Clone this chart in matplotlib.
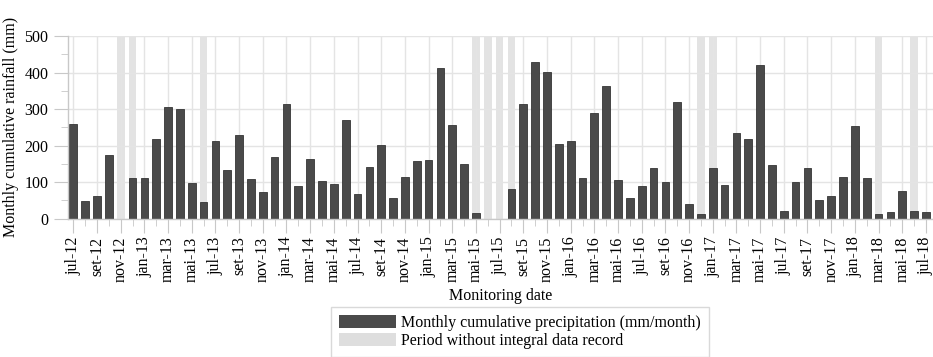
import matplotlib
matplotlib.use("Agg")
import matplotlib.pyplot as plt
from matplotlib.patches import Patch
from matplotlib.ticker import MultipleLocator

plt.rcParams['font.family'] = ['Liberation Serif', 'DejaVu Serif']

# Monthly cumulative precipitation, jul-12 ... jul-18 (mm/month)
rainfall = [
    260, 49, 62, 175, 0, 112,            # jul-12 .. dez-12
    110, 217, 306, 300, 97, 44,          # jan-13 .. jun-13
    212, 133, 230, 108, 72, 169,         # jul-13 .. dez-13
    313, 89, 163, 104, 94, 271,          # jan-14 .. jun-14
    68, 142, 201, 56, 114, 158,          # jul-14 .. dez-14
    161, 413, 256, 148, 16, 0,           # jan-15 .. jun-15
    0, 80, 313, 428, 401, 205,           # jul-15 .. dez-15
    213, 112, 289, 362, 106, 57,         # jan-16 .. jun-16
    89, 137, 101, 320, 39, 11,           # jul-16 .. dez-16
    137, 93, 233, 219, 421, 146,         # jan-17 .. jun-17
    21, 101, 137, 51, 61, 114,           # jul-17 .. dez-17
    254, 111, 11, 19, 75, 21,            # jan-18 .. jun-18
    17,                                  # jul-18
]

# 1 = month without integral data record
no_record = [0] * len(rainfall)
for m in [4, 5, 11, 34, 35, 36, 37, 53, 54, 68, 71]:
    no_record[m] = 1

tick_labels = [
    "jul-12", "set-12", "nov-12", "jan-13", "mar-13", "mai-13",
    "jul-13", "set-13", "nov-13", "jan-14", "mar-14", "mai-14",
    "jul-14", "set-14", "nov-14", "jan-15", "mar-15", "mai-15",
    "jul-15", "set-15", "nov-15", "jan-16", "mar-16", "mai-16",
    "jul-16", "set-16", "nov-16", "jan-17", "mar-17", "mai-17",
    "jul-17", "set-17", "nov-17", "jan-18", "mar-18", "mai-18",
    "jul-18",
]

YMAX = 500
BAR_COLOR = "#4a4a4a"
GAP_COLOR = "#dedede"
GRID_COLOR = "#e4e4e4"
AX_COLOR = "#c8c8c8"
FS = 11.5

fig = plt.figure(figsize=(9.33, 3.57), dpi=100)
ax = fig.add_axes([68 / 933, 1 - 218.5 / 357, 1 - 68 / 933, (218.5 - 36) / 357])

x = list(range(len(rainfall)))
width = 0.65

ax.bar(x, [YMAX * f for f in no_record], width=width, color=GAP_COLOR,
       edgecolor="none", alpha=0.85, zorder=0.4)
ax.bar(x, rainfall, width=width, color=BAR_COLOR, edgecolor="#353535",
       linewidth=0.6, zorder=2)

ax.set_xlim(-0.45, 72.6)
ax.set_ylim(0, YMAX)

ax.set_xticks(x[::2])
ax.set_xticklabels(tick_labels, rotation=90, fontsize=FS)
ax.xaxis.set_minor_locator(MultipleLocator(1))
ax.yaxis.set_major_locator(MultipleLocator(100))
ax.yaxis.set_minor_locator(MultipleLocator(50))
ax.tick_params(axis='y', which='major', length=10, color=AX_COLOR, labelsize=FS, pad=4)
ax.tick_params(axis='y', which='minor', length=5, color=AX_COLOR)
ax.tick_params(axis='x', which='major', length=10, color=AX_COLOR, pad=3)
ax.tick_params(axis='x', which='minor', length=5, color=AX_COLOR)

ax.set_axisbelow(True)
ax.grid(True, which='major', color=GRID_COLOR, linewidth=1.0, zorder=0.5)

for side in ("top", "right"):
    ax.spines[side].set_visible(False)
for side in ("left", "bottom"):
    ax.spines[side].set_color(AX_COLOR)
    ax.spines[side].set_linewidth(1.0)

ax.set_ylabel("Monthly cumulative rainfall (mm)", fontsize=FS, labelpad=4)
ax.set_xlabel("Monitoring date", fontsize=FS, labelpad=4)

handles = [
    Patch(facecolor=BAR_COLOR, edgecolor="none", label="Monthly cumulative precipitation (mm/month)"),
    Patch(facecolor=GAP_COLOR, edgecolor="none", label="Period without integral data record"),
]
leg = fig.legend(handles=handles, loc="upper center", bbox_to_anchor=(520 / 933, 1 - 307 / 357),
                 fontsize=FS, frameon=True, fancybox=False, edgecolor="#d0d0d0",
                 handlelength=3.6, handleheight=0.9, handletextpad=0.3,
                 labelspacing=0.1, borderpad=0.5, borderaxespad=0)
leg.get_frame().set_linewidth(1.0)

fig.savefig("out.png", dpi=100)
